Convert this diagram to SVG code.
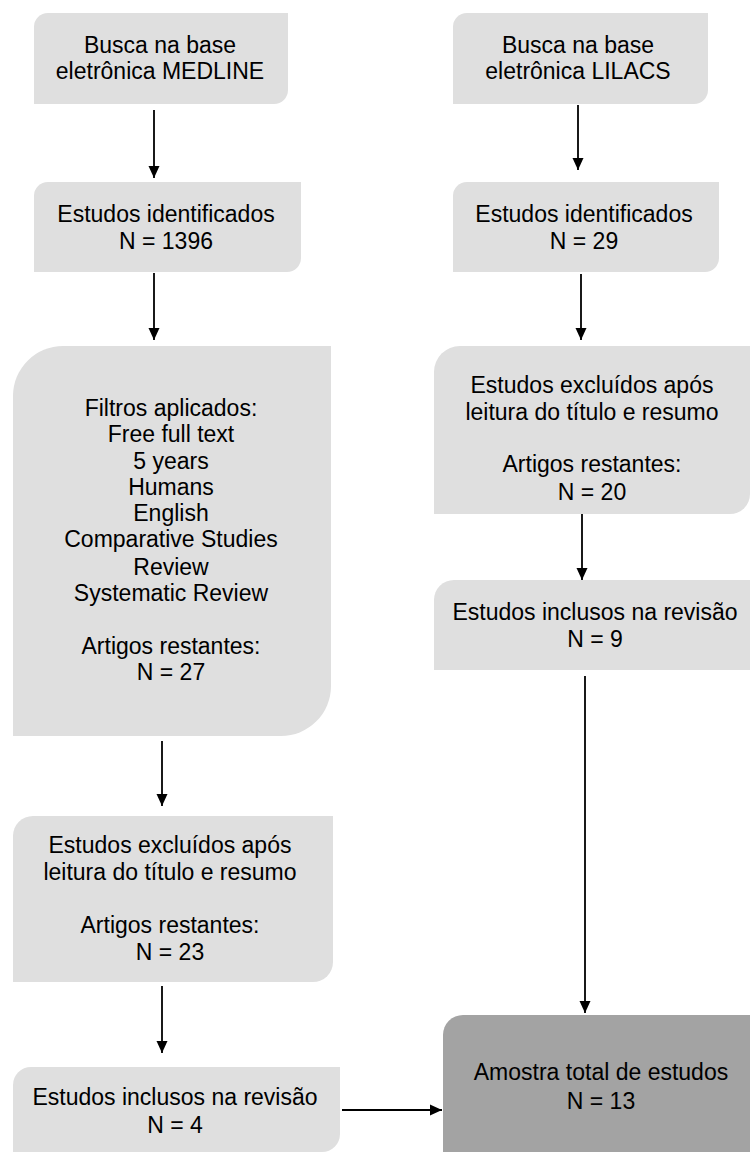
<svg xmlns="http://www.w3.org/2000/svg" width="750" height="1152" viewBox="0 0 750 1152">
<style>
.box{fill:#dfdfdf}
.dark{fill:#a3a3a3}
text{font-family:"Liberation Sans",Arial,Helvetica,sans-serif;font-size:23px;fill:#000;text-anchor:middle}
.conn line{stroke:#000;stroke-width:1.8;marker-end:url(#ah)}
</style>
<defs>
<marker id="ah" markerUnits="userSpaceOnUse" markerWidth="12" markerHeight="12" refX="12" refY="6" orient="auto">
<path d="M0,0.5 L12,6 L0,11.5 z" fill="#000"/>
</marker>
</defs>
<rect width="750" height="1152" fill="#fff"/>

<g id="medline">
<path class="box" d="M48,13 H288 V90 A14,14 0 0 1 274,104 H34 V27 A14,14 0 0 1 48,13 Z"/>
<text x="160" y="53">Busca na base</text>
<text x="160" y="79">eletrônica MEDLINE</text>
</g>
<g id="med-ident">
<path class="box" d="M48,182 H301 V258 A14,14 0 0 1 287,272 H34 V196 A14,14 0 0 1 48,182 Z"/>
<text x="166" y="222">Estudos identificados</text>
<text x="166" y="249">N = 1396</text>
</g>
<g id="med-filtros">
<path class="box" d="M63,346 H331 V686 A50,50 0 0 1 281,736 H13 V396 A50,50 0 0 1 63,346 Z"/>
<text x="171" y="416">Filtros aplicados:</text>
<text x="171" y="442">Free full text</text>
<text x="171" y="469">5 years</text>
<text x="171" y="495">Humans</text>
<text x="171" y="521">English</text>
<text x="171" y="547">Comparative Studies</text>
<text x="171" y="575">Review</text>
<text x="171" y="601">Systematic Review</text>
<text x="171" y="654">Artigos restantes:</text>
<text x="171" y="680">N = 27</text>
</g>
<g id="med-excl">
<path class="box" d="M33,816 H333 V962 A20,20 0 0 1 313,982 H13 V836 A20,20 0 0 1 33,816 Z"/>
<text x="170" y="853">Estudos excluídos após</text>
<text x="170" y="880">leitura do título e resumo</text>
<text x="170" y="933">Artigos restantes:</text>
<text x="170" y="960">N = 23</text>
</g>
<g id="med-incl">
<path class="box" d="M31,1067 H340 V1134 A18,18 0 0 1 322,1152 H13 V1085 A18,18 0 0 1 31,1067 Z"/>
<text x="175" y="1105">Estudos inclusos na revisão</text>
<text x="175" y="1133">N = 4</text>
</g>

<g id="lilacs">
<path class="box" d="M467,13 H708 V90 A14,14 0 0 1 694,104 H453 V27 A14,14 0 0 1 467,13 Z"/>
<text x="578" y="53">Busca na base</text>
<text x="578" y="79">eletrônica LILACS</text>
</g>
<g id="lil-ident">
<path class="box" d="M467,182 H719 V258 A14,14 0 0 1 705,272 H453 V196 A14,14 0 0 1 467,182 Z"/>
<text x="584" y="222">Estudos identificados</text>
<text x="584" y="249">N = 29</text>
</g>
<g id="lil-excl">
<path class="box" d="M460,346 H750 V494 A20,20 0 0 1 730,514 H434 V372 A26,26 0 0 1 460,346 Z"/>
<text x="592" y="393">Estudos excluídos após</text>
<text x="592" y="420">leitura do título e resumo</text>
<text x="592" y="472">Artigos restantes:</text>
<text x="592" y="500">N = 20</text>
</g>
<g id="lil-incl">
<path class="box" d="M454,580 H750 V670 H434 V600 A20,20 0 0 1 454,580 Z"/>
<text x="595" y="620">Estudos inclusos na revisão</text>
<text x="595" y="647">N = 9</text>
</g>

<g id="total">
<path class="dark" d="M463,1015 H760 V1160 H443 V1035 A20,20 0 0 1 463,1015 Z"/>
<text x="601" y="1080">Amostra total de estudos</text>
<text x="601" y="1109">N = 13</text>
</g>

<g class="conn" id="connectors">
<line x1="154" y1="110" x2="154" y2="178"/>
<line x1="154" y1="273" x2="154" y2="340"/>
<line x1="162" y1="741" x2="162" y2="806"/>
<line x1="162" y1="986" x2="162" y2="1053"/>
<line x1="342" y1="1110" x2="442" y2="1110"/>
<line x1="578" y1="105" x2="578" y2="170"/>
<line x1="581" y1="274" x2="581" y2="340"/>
<line x1="582" y1="514" x2="582" y2="580"/>
<line x1="585" y1="676" x2="585" y2="1013"/>
</g>
</svg>
